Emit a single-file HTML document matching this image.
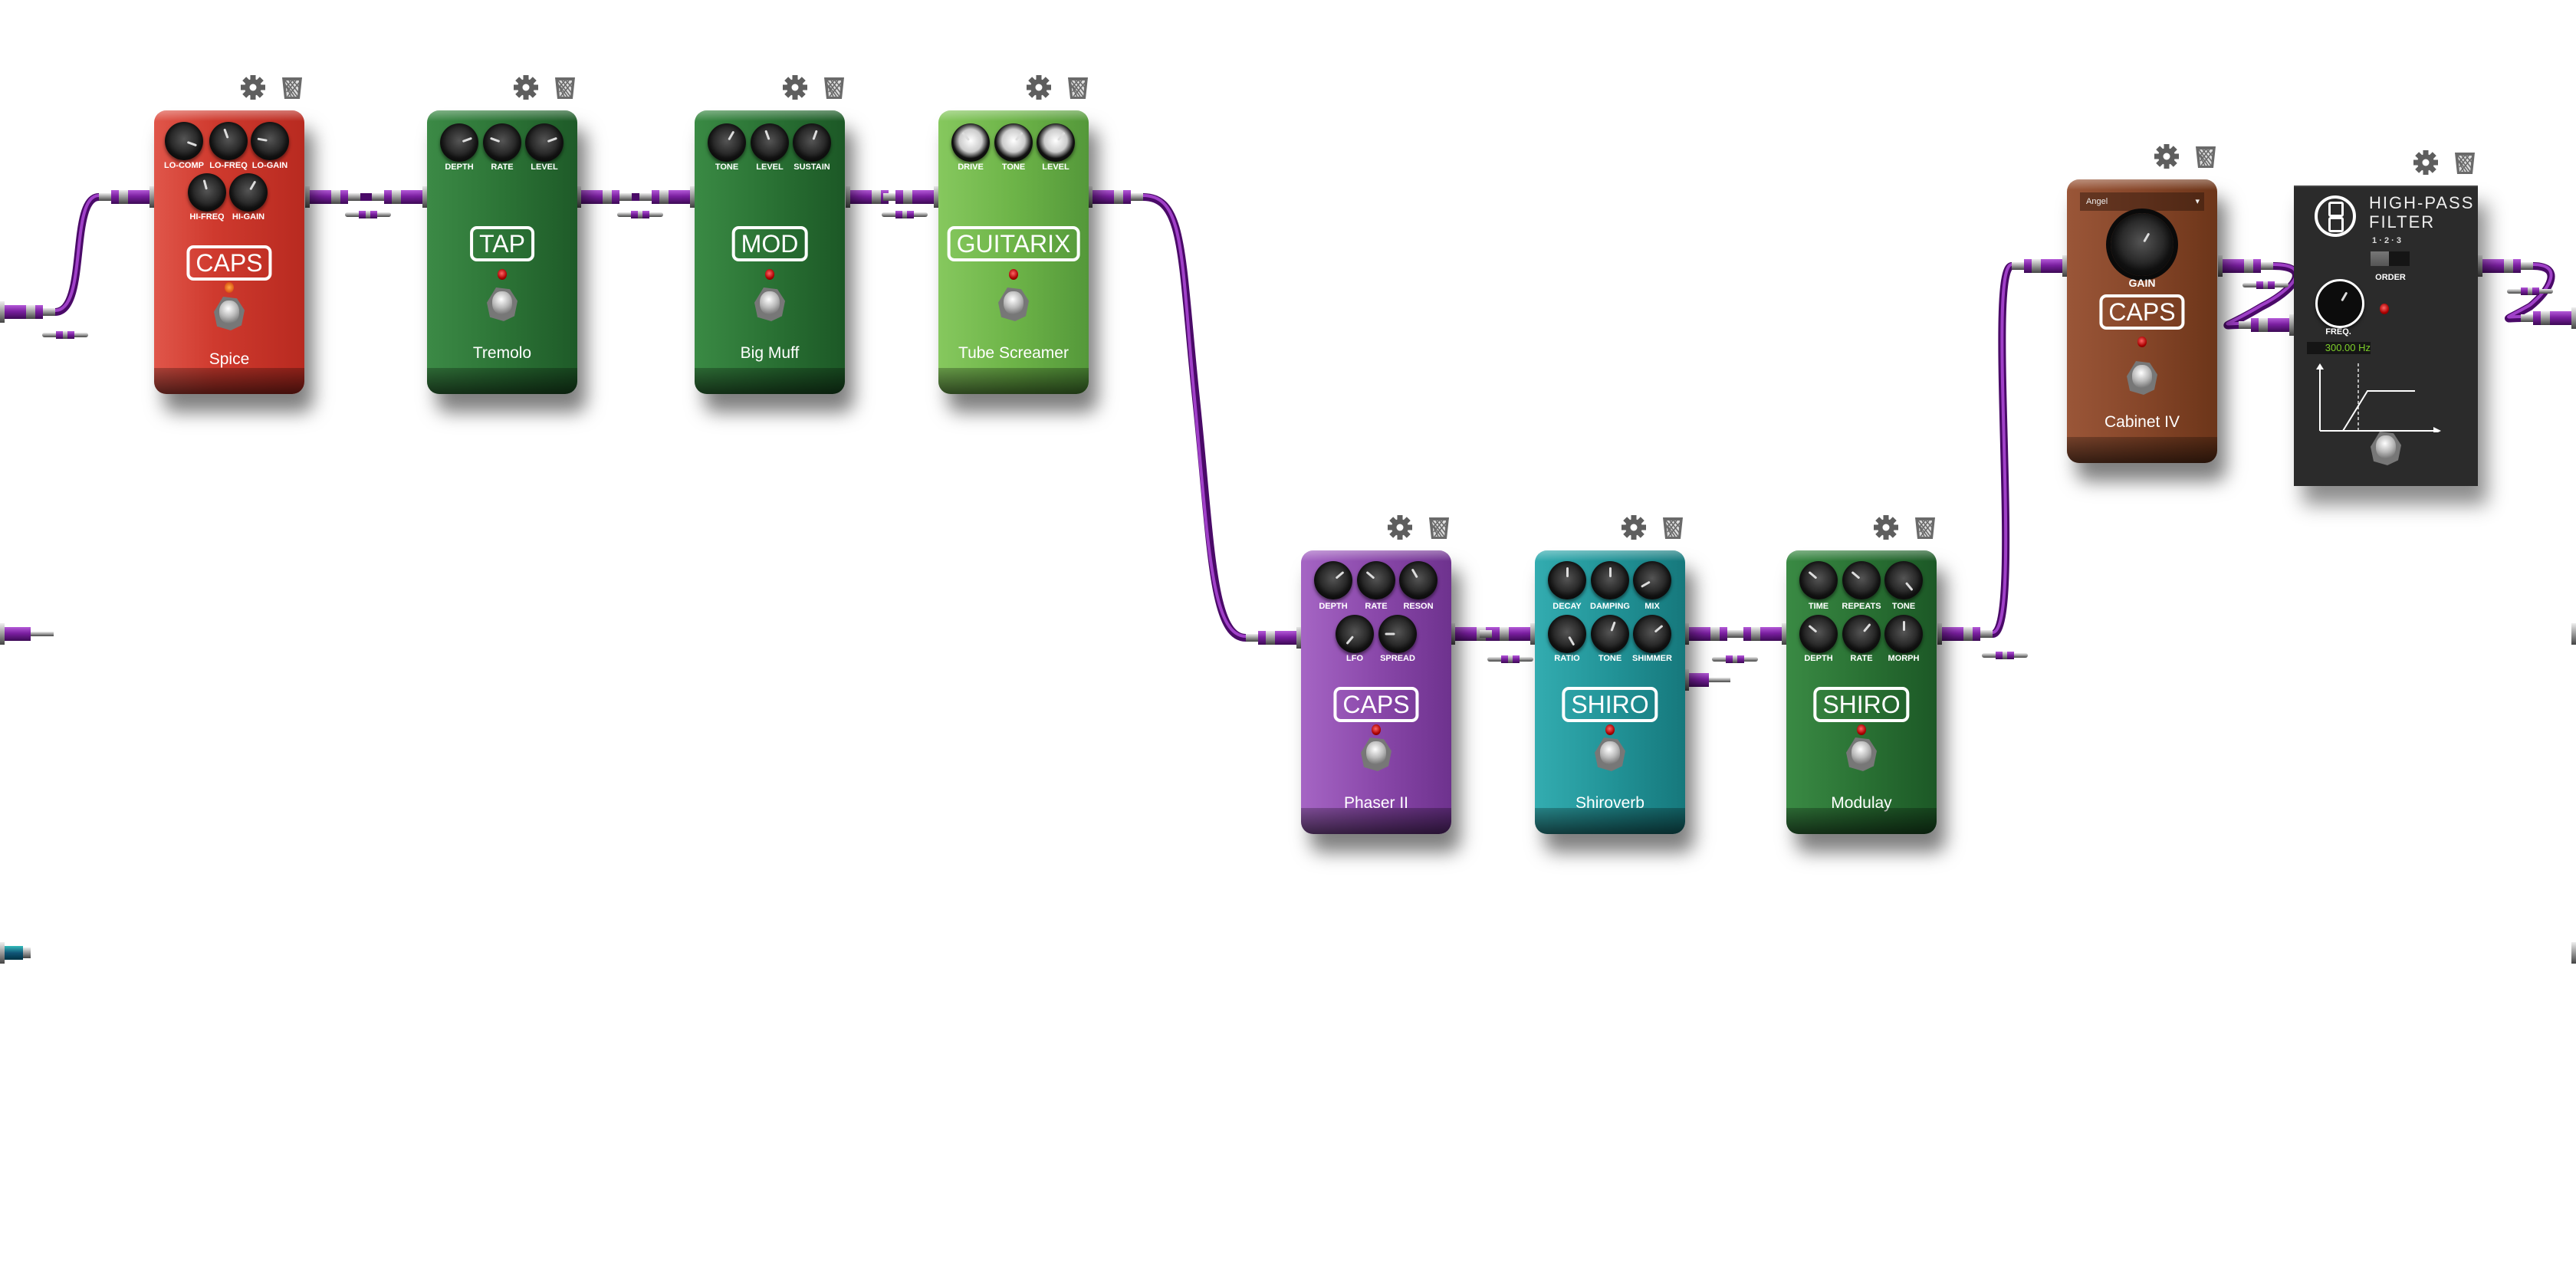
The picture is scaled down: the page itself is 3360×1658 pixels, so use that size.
<!DOCTYPE html>
<html><head><meta charset="utf-8"><style>
html,body{margin:0;padding:0;background:#fff;}
body{width:3360px;height:1658px;position:relative;overflow:hidden;font-family:"Liberation Sans",sans-serif;}
.p{position:absolute;width:196px;height:370px;border-radius:16px;box-shadow:12px 24px 24px rgba(0,0,0,.5);overflow:hidden;}
.p::before{content:"";position:absolute;left:0;right:0;top:0;height:14px;background:linear-gradient(rgba(255,255,255,.35),rgba(255,255,255,0));border-radius:16px 16px 0 0}
.p::after{content:"";position:absolute;left:0;right:0;bottom:0;height:34px;background:linear-gradient(rgba(0,0,0,.25),rgba(0,0,0,.65));}
.k{position:absolute;width:50px;height:50px;border-radius:50%;transform:translate(-50%,-50%);background:radial-gradient(circle at 50% 45%,#555 0,#2a2a2a 45%,#111 62%,#000 100%);box-shadow:0 3px 4px rgba(0,0,0,.5);}
.k::after{content:"";position:absolute;left:50%;top:50%;width:3px;height:13px;margin-left:-1.5px;background:#ddd;transform-origin:50% 0;transform:rotate(var(--r)) translateY(4px);border-radius:2px}
.l{position:absolute;transform:translate(-50%,-50%);color:#fff;font:bold 11px "Liberation Sans Narrow","Liberation Sans",sans-serif;white-space:nowrap}
.b{position:absolute;transform:translate(-50%,-50%);border:4px solid #fff;border-radius:9px;color:#fff;font:32px "Liberation Sans Narrow","Liberation Sans",sans-serif;padding:0 8px;line-height:38px;white-space:nowrap}
.led{position:absolute;width:12px;height:14px;border-radius:50%;transform:translate(-50%,-50%);background:radial-gradient(circle at 45% 40%,#f66,#a00 60%,#500);}
.fs{position:absolute;width:40px;height:44px;transform:translate(-50%,-50%);background:#777;clip-path:polygon(30% 0,75% 5%,100% 40%,90% 85%,55% 100%,10% 88%,0 45%);}
.fs::after{content:"";position:absolute;left:7px;top:5px;width:26px;height:30px;border-radius:45%;background:radial-gradient(circle at 45% 35%,#fff,#bbb 45%,#666 90%)}
.n{position:absolute;transform:translate(-50%,-50%);color:#fff;font:21px "Liberation Sans Narrow","Liberation Sans",sans-serif;white-space:nowrap}
</style></head><body>

<svg width="3360" height="1658" style="position:absolute;left:0;top:0">
<defs>
<symbol id="tr" viewBox="0 0 30 32"><path d="M2 3H28L25 31H5Z" fill="#6a6a6a"/><path d="M6 7H24L22 28H8Z" fill="#ddd"/><path d="M6 7L22 28M11 7L24 24M16 7L24 16M20 7L8 22M24 10L9 28M15 7L6 17M6 12L14 28M18 28L8 14" stroke="#6a6a6a" stroke-width="1.6"/></symbol>
<symbol id="gr" viewBox="-16 -16 32 32"><g fill="#5e5e5e"><circle r="11"/><rect x="-3.5" y="-16" width="7" height="32"/><rect x="-3.5" y="-16" width="7" height="32" transform="rotate(45)"/><rect x="-3.5" y="-16" width="7" height="32" transform="rotate(90)"/><rect x="-3.5" y="-16" width="7" height="32" transform="rotate(135)"/></g><circle r="4.5" fill="#fff"/></symbol>
<linearGradient id="pb" x1="0" y1="0" x2="0" y2="1"><stop offset="0" stop-color="#b45ad8"/><stop offset=".45" stop-color="#7a1fa0"/><stop offset="1" stop-color="#3d0a55"/></linearGradient>
<linearGradient id="sv" x1="0" y1="0" x2="0" y2="1"><stop offset="0" stop-color="#eee"/><stop offset=".5" stop-color="#999"/><stop offset="1" stop-color="#444"/></linearGradient>
<linearGradient id="tb" x1="0" y1="0" x2="0" y2="1"><stop offset="0" stop-color="#3bb"/><stop offset=".5" stop-color="#157"/><stop offset="1" stop-color="#034"/></linearGradient>
<g id="pl"><rect x="0" y="-14" width="6" height="28" fill="url(#sv)"/><rect x="6" y="-9" width="28" height="18" fill="url(#pb)"/><rect x="34" y="-9" width="12" height="18" fill="url(#sv)"/><rect x="46" y="-9" width="10" height="18" fill="url(#pb)"/><rect x="56" y="-5" width="16" height="10" fill="url(#sv)"/></g>
<g id="ad"><rect x="0" y="-3" width="60" height="6" rx="3" fill="url(#sv)"/><rect x="18" y="-5" width="24" height="10" fill="url(#pb)"/><rect x="27" y="-5" width="6" height="10" fill="url(#sv)"/></g>
</defs>
<g fill="none" stroke-linecap="round">
<g stroke="#4a0a68" stroke-width="10">
<path d="M72,407 C115,407 90,257 129,257"/>
<path d="M470,257 L485,257"/><path d="M824,257 L834,257"/><path d="M1175,257 L1152,257"/>
<path d="M1491,257 C1545,257 1540,330 1560,520 S1580,832 1625,832"/>
<path d="M1964,827 L1930,827"/><path d="M2269,827 L2258,827"/>
<path d="M2599,827 C2640,827 2590,347 2624,347"/>
<path d="M2965,347 C3020,347 2990,380 2950,400 C2900,430 2895,424 2920,424"/>
<path d="M3304,347 C3345,347 3325,380 3300,400 C3265,420 3265,415 3288,415"/>
</g>
<g stroke="#a040c8" stroke-width="4">
<path d="M72,405 C115,405 90,255 129,255"/>
<path d="M1491,255 C1545,255 1540,330 1558,520 S1580,830 1625,830"/>
<path d="M2599,825 C2640,825 2590,345 2624,345"/>
<path d="M2965,345 C3020,345 2990,378 2950,398 C2900,428 2895,422 2920,422"/>
<path d="M3304,345 C3345,345 3325,378 3300,398 C3265,418 3265,413 3288,413"/>
</g></g>
<use href="#pl" transform="translate(0,407)"/>
<use href="#pl" transform="translate(201,257) scale(-1,1)"/>
<use href="#pl" transform="translate(398,257)"/>
<use href="#pl" transform="translate(557,257) scale(-1,1)"/>
<use href="#pl" transform="translate(752,257)"/>
<use href="#pl" transform="translate(906,257) scale(-1,1)"/>
<use href="#pl" transform="translate(1103,257)"/>
<use href="#pl" transform="translate(1224,257) scale(-1,1)"/>
<use href="#pl" transform="translate(1419,257)"/>
<use href="#pl" transform="translate(1697,832) scale(-1,1)"/>
<use href="#pl" transform="translate(1892,827)"/>
<use href="#pl" transform="translate(2002,827) scale(-1,1)"/>
<use href="#pl" transform="translate(2197,827)"/>
<use href="#pl" transform="translate(2330,827) scale(-1,1)"/>
<use href="#pl" transform="translate(2527,827)"/>
<use href="#pl" transform="translate(2696,347) scale(-1,1)"/>
<use href="#pl" transform="translate(2893,347)"/>
<use href="#pl" transform="translate(2992,424) scale(-1,1)"/>
<use href="#pl" transform="translate(3232,347)"/>
<use href="#pl" transform="translate(3360,415) scale(-1,1)"/>
<use href="#ad" transform="translate(55,437)"/>
<use href="#ad" transform="translate(450,280)"/>
<use href="#ad" transform="translate(805,280)"/>
<use href="#ad" transform="translate(1150,280)"/>
<use href="#ad" transform="translate(1940,860)"/>
<use href="#ad" transform="translate(2233,860)"/>
<use href="#ad" transform="translate(2585,855)"/>
<use href="#ad" transform="translate(2925,372)"/>
<use href="#ad" transform="translate(3270,380)"/>
<rect x="0" y="813" width="6" height="28" fill="url(#sv)"/><rect x="6" y="818" width="34" height="18" fill="url(#pb)"/><rect x="40" y="824" width="30" height="6" fill="url(#sv)"/>
<rect x="2197" y="873" width="6" height="28" fill="url(#sv)"/><rect x="2203" y="878" width="26" height="18" fill="url(#pb)"/><rect x="2229" y="884" width="28" height="6" fill="url(#sv)"/>
<rect x="0" y="1229" width="6" height="28" fill="url(#sv)"/><rect x="6" y="1234" width="24" height="18" fill="url(#tb)"/><rect x="30" y="1236" width="10" height="14" fill="url(#sv)"/>
<rect x="3354" y="813" width="6" height="28" fill="url(#sv)"/><rect x="3354" y="1229" width="6" height="28" fill="url(#sv)"/>
<use href="#tr" x="366" y="98" width="30" height="32"/>
<use href="#tr" x="722" y="98" width="30" height="32"/>
<use href="#tr" x="1073" y="98" width="30" height="32"/>
<use href="#tr" x="1391" y="98" width="30" height="32"/>
<use href="#tr" x="1862" y="672" width="30" height="32"/>
<use href="#tr" x="2167" y="672" width="30" height="32"/>
<use href="#tr" x="2496" y="672" width="30" height="32"/>
<use href="#tr" x="2862" y="188" width="30" height="32"/>
<use href="#tr" x="3200" y="196" width="30" height="32"/>
<use href="#gr" x="314" y="98" width="32" height="32"/>
<use href="#gr" x="670" y="98" width="32" height="32"/>
<use href="#gr" x="1021" y="98" width="32" height="32"/>
<use href="#gr" x="1339" y="98" width="32" height="32"/>
<use href="#gr" x="1810" y="672" width="32" height="32"/>
<use href="#gr" x="2115" y="672" width="32" height="32"/>
<use href="#gr" x="2444" y="672" width="32" height="32"/>
<use href="#gr" x="2810" y="188" width="32" height="32"/>
<use href="#gr" x="3148" y="196" width="32" height="32"/>
</svg>

<div class="p" style="left:201px;top:144px;background:linear-gradient(90deg,#e0564a,#cf3a2e 40%,#b82a20)">
<div class="k" style="left:39px;top:40px;--r:-70deg"></div><div class="k" style="left:97px;top:40px;--r:160deg"></div><div class="k" style="left:151px;top:40px;--r:100deg"></div>
<div class="l" style="left:39px;top:72px">LO-COMP</div><div class="l" style="left:97px;top:72px">LO-FREQ</div><div class="l" style="left:151px;top:72px">LO-GAIN</div>
<div class="k" style="left:69px;top:107px;--r:165deg"></div><div class="k" style="left:123px;top:107px;--r:-150deg"></div>
<div class="l" style="left:69px;top:139px">HI-FREQ</div><div class="l" style="left:123px;top:139px">HI-GAIN</div>
<div class="b" style="left:98px;top:199px">CAPS</div><div class="led" style="left:98px;top:231px;background:radial-gradient(circle,#fa4,#c30)"></div>
<div class="fs" style="left:98px;top:265px"></div><div class="n" style="left:98px;top:325px">Spice</div></div>

<div class="p" style="left:557px;top:144px;background:linear-gradient(90deg,#3c8a46,#2c7436 50%,#1e5a28)">
<div class="k" style="left:42px;top:42px;--r:-110deg"></div><div class="k" style="left:98px;top:42px;--r:110deg"></div><div class="k" style="left:153px;top:42px;--r:-110deg"></div>
<div class="l" style="left:42px;top:74px">DEPTH</div><div class="l" style="left:98px;top:74px">RATE</div><div class="l" style="left:153px;top:74px">LEVEL</div>
<div class="b" style="left:98px;top:174px">TAP</div><div class="led" style="left:98px;top:214px"></div>
<div class="fs" style="left:98px;top:253px"></div><div class="n" style="left:98px;top:317px">Tremolo</div></div>

<div class="p" style="left:906px;top:144px;background:linear-gradient(90deg,#3a8a44,#2a7234 50%,#1c5826)">
<div class="k" style="left:42px;top:42px;--r:-150deg"></div><div class="k" style="left:98px;top:42px;--r:160deg"></div><div class="k" style="left:153px;top:42px;--r:-160deg"></div>
<div class="l" style="left:42px;top:74px">TONE</div><div class="l" style="left:98px;top:74px">LEVEL</div><div class="l" style="left:153px;top:74px">SUSTAIN</div>
<div class="b" style="left:98px;top:174px">MOD</div><div class="led" style="left:98px;top:214px"></div>
<div class="fs" style="left:98px;top:253px"></div><div class="n" style="left:98px;top:317px">Big Muff</div></div>

<div class="p" style="left:1224px;top:144px;background:linear-gradient(90deg,#86c85e,#6db448 50%,#54983a)">
<div class="k" style="left:42px;top:42px;--r:140deg;background:radial-gradient(circle at 50% 45%,#fff 0,#ccc 40%,#111 62%,#000)"></div><div class="k" style="left:98px;top:42px;--r:-140deg;background:radial-gradient(circle at 50% 45%,#fff 0,#ccc 40%,#111 62%,#000)"></div><div class="k" style="left:153px;top:42px;--r:-140deg;background:radial-gradient(circle at 50% 45%,#fff 0,#ccc 40%,#111 62%,#000)"></div>
<div class="l" style="left:42px;top:74px">DRIVE</div><div class="l" style="left:98px;top:74px">TONE</div><div class="l" style="left:153px;top:74px">LEVEL</div>
<div class="b" style="left:98px;top:174px">GUITARIX</div><div class="led" style="left:98px;top:214px"></div>
<div class="fs" style="left:98px;top:253px"></div><div class="n" style="left:98px;top:317px">Tube Screamer</div></div>

<div class="p" style="left:1697px;top:718px;background:linear-gradient(90deg,#a565c4,#8a48aa 50%,#6e328e)">
<div class="k" style="left:42px;top:39px;--r:-130deg"></div><div class="k" style="left:98px;top:39px;--r:130deg"></div><div class="k" style="left:153px;top:39px;--r:150deg"></div>
<div class="l" style="left:42px;top:73px">DEPTH</div><div class="l" style="left:98px;top:73px">RATE</div><div class="l" style="left:153px;top:73px">RESON</div>
<div class="k" style="left:70px;top:109px;--r:40deg"></div><div class="k" style="left:126px;top:109px;--r:90deg"></div>
<div class="l" style="left:70px;top:141px">LFO</div><div class="l" style="left:126px;top:141px">SPREAD</div>
<div class="b" style="left:98px;top:201px">CAPS</div><div class="led" style="left:98px;top:234px"></div>
<div class="fs" style="left:98px;top:266px"></div><div class="n" style="left:98px;top:330px">Phaser II</div></div>

<div class="p" style="left:2002px;top:718px;background:linear-gradient(90deg,#33acb0,#229498 50%,#16787c)">
<div class="k" style="left:42px;top:39px;--r:180deg"></div><div class="k" style="left:98px;top:39px;--r:180deg"></div><div class="k" style="left:153px;top:39px;--r:60deg"></div>
<div class="l" style="left:42px;top:73px">DECAY</div><div class="l" style="left:98px;top:73px">DAMPING</div><div class="l" style="left:153px;top:73px">MIX</div>
<div class="k" style="left:42px;top:109px;--r:-30deg"></div><div class="k" style="left:98px;top:109px;--r:-160deg"></div><div class="k" style="left:153px;top:109px;--r:-130deg"></div>
<div class="l" style="left:42px;top:141px">RATIO</div><div class="l" style="left:98px;top:141px">TONE</div><div class="l" style="left:153px;top:141px">SHIMMER</div>
<div class="b" style="left:98px;top:201px">SHIRO</div><div class="led" style="left:98px;top:234px"></div>
<div class="fs" style="left:98px;top:266px"></div><div class="n" style="left:98px;top:330px">Shiroverb</div></div>

<div class="p" style="left:2330px;top:718px;background:linear-gradient(90deg,#3a8a44,#2a7234 50%,#1c5826)">
<div class="k" style="left:42px;top:39px;--r:130deg"></div><div class="k" style="left:98px;top:39px;--r:130deg"></div><div class="k" style="left:153px;top:39px;--r:-40deg"></div>
<div class="l" style="left:42px;top:73px">TIME</div><div class="l" style="left:98px;top:73px">REPEATS</div><div class="l" style="left:153px;top:73px">TONE</div>
<div class="k" style="left:42px;top:109px;--r:130deg"></div><div class="k" style="left:98px;top:109px;--r:-140deg"></div><div class="k" style="left:153px;top:109px;--r:180deg"></div>
<div class="l" style="left:42px;top:141px">DEPTH</div><div class="l" style="left:98px;top:141px">RATE</div><div class="l" style="left:153px;top:141px">MORPH</div>
<div class="b" style="left:98px;top:201px">SHIRO</div><div class="led" style="left:98px;top:234px"></div>
<div class="fs" style="left:98px;top:266px"></div><div class="n" style="left:98px;top:330px">Modulay</div></div>

<div class="p" style="left:2696px;top:234px;background:linear-gradient(90deg,#9a5638,#864629 50%,#6c3519)">
<div style="position:absolute;left:17px;top:17px;width:162px;height:24px;background:rgba(40,20,10,.45);color:#eee;font:11px 'Liberation Sans',sans-serif;line-height:24px;padding-left:8px;box-sizing:border-box">Angel<span style="position:absolute;right:6px">▾</span></div>
<div class="k" style="left:98px;top:85px;width:82px;height:82px;--r:-150deg;box-shadow:0 0 0 6px #0a0a0a"></div>
<div class="l" style="left:98px;top:135px;font-size:14px">GAIN</div>
<div class="b" style="left:98px;top:173px">CAPS</div><div class="led" style="left:98px;top:212px"></div>
<div class="fs" style="left:98px;top:259px"></div><div class="n" style="left:98px;top:317px">Cabinet IV</div></div>

<div style="position:absolute;left:2992px;top:242px;width:240px;height:390px;background:#2b2b2b;box-shadow:12px 24px 24px rgba(0,0,0,.45);border-top:2px solid #444">
<div style="position:absolute;left:27px;top:11px;width:46px;height:46px;border:4px solid #fff;border-radius:50%"></div>
<div style="position:absolute;left:45px;top:19px;width:14px;height:14px;border:3px solid #fff;border-radius:3px"></div>
<div style="position:absolute;left:45px;top:39px;width:14px;height:14px;border:3px solid #fff;border-radius:3px"></div>
<div style="position:absolute;left:98px;top:8px;color:#eee;font:22px 'Liberation Sans',sans-serif;letter-spacing:2px;line-height:25px">HIGH-PASS<br>FILTER</div>
<div style="position:absolute;left:86px;top:64px;color:#ddd;font:bold 11px 'Liberation Sans',sans-serif;width:70px;text-align:center">1 · 2 · 3</div>
<div style="position:absolute;left:100px;top:84px;width:51px;height:19px;background:#151515"><div style="width:24px;height:19px;background:linear-gradient(#777,#555)"></div></div>
<div class="l" style="left:126px;top:118px">ORDER</div>
<div class="k" style="left:60px;top:152px;width:58px;height:58px;--r:-150deg;border:3px solid #fff;background:#0c0c0c"></div>
<div class="led" style="left:118px;top:159px"></div>
<div class="l" style="left:58px;top:189px">FREQ.</div>
<div style="position:absolute;left:17px;top:202px;width:83px;height:16px;background:#151515;color:#7ecf2a;font:13px 'Liberation Sans Narrow','Liberation Sans',sans-serif;text-align:right;line-height:16px">300.00 Hz</div>
<svg style="position:absolute;left:28px;top:228px" width="170" height="92"><path d="M6,90V6M6,90H160" stroke="#fff" stroke-width="2" fill="none"/><path d="M1,10L6,2L11,10ZM154,85L164,90L154,95Z" fill="#fff"/><path d="M36,90L68,38H130" stroke="#fff" stroke-width="2" fill="none"/><path d="M56,2V90" stroke="#fff" stroke-width="1.3" stroke-dasharray="4,3"/></svg>
<div class="fs" style="left:120px;top:341px"></div>
</div>
</body></html>
